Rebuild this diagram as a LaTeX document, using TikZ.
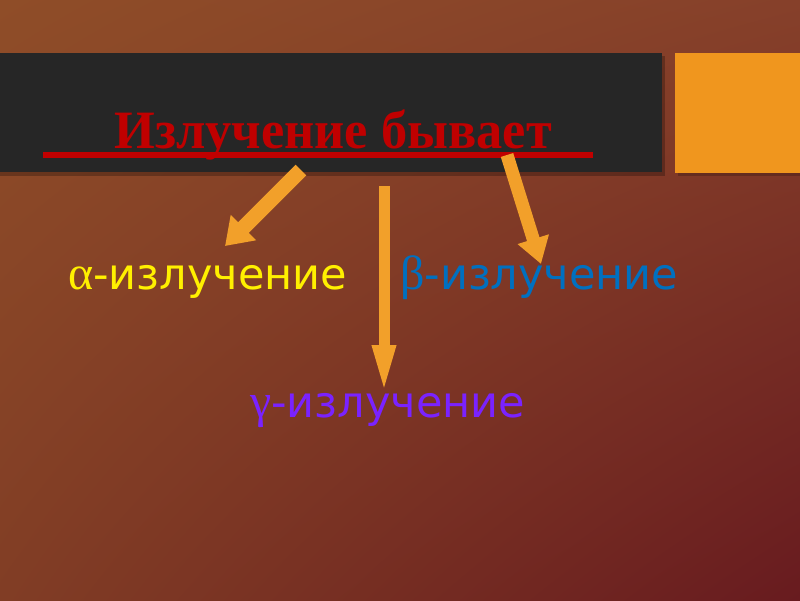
\documentclass[tikz,border=0pt]{standalone}
\usepackage{fontspec}
\setmainfont{Liberation Serif}
\newfontfamily\sansfnt{DejaVu Sans}
\newfontfamily\grkfnt{Liberation Serif}
\usetikzlibrary{arrows.meta,shadings}
\definecolor{bgUL}{HTML}{8F4D28}
\definecolor{bgUR}{HTML}{86402A}
\definecolor{bgLL}{HTML}{813D25}
\definecolor{bgLR}{HTML}{681B1F}
\definecolor{bandcol}{HTML}{262626}
\definecolor{orangebox}{HTML}{F0961E}
\definecolor{titlered}{HTML}{C00000}
\definecolor{arrowcol}{HTML}{F2A02A}
\definecolor{alphacol}{HTML}{FFF000}
\definecolor{betacol}{HTML}{0070C0}
\definecolor{gammacol}{HTML}{7A22FF}
\newcommand{\grk}[1]{{\grkfnt\fontsize{48}{55}\selectfont\grkfnt #1}}
\tikzset{
  arrowbody/.style={draw=arrowcol, line width=#1},
  labeltext/.style={anchor=base west, inner sep=0pt, font=\sansfnt\fontsize{43}{50}\selectfont},
}
\begin{document}
\begin{tikzpicture}[x=1pt,y=-1pt]
\useasboundingbox (0,0) rectangle (800,600);
\shade[upper left=bgUL, upper right=bgUR, lower left=bgLL, lower right=bgLR] (0,0) rectangle (800,600);
% header band and orange box
\fill[black, opacity=.25] (0,56) rectangle (665,176);
\fill[bandcol] (0,53) rectangle (662,172);
\fill[black, opacity=.2] (678,56) rectangle (800,176);
\fill[orangebox] (675,53) rectangle (800,173);
% title
\node[anchor=base, inner sep=0pt, text=titlered] (title) at (333,148)
  {\scalebox{0.97}[1]{\fontsize{54}{60}\selectfont\bfseries Излучение бывает}};
\coordinate (ulL) at (43,155);
\coordinate (ulR) at (593,155);
\draw[titlered, line width=6pt] (ulL) -- (ulR);
% labels
\node[labeltext, text=alphacol] (alpha) at (68,289) {\grk{α}-излучение};
\node[labeltext, text=betacol] (beta) at (400,289) {\grk{β}-излучение};
\node[labeltext, text=gammacol] (gamma) at (250,417) {\grk{γ}-излучение};
% arrows
\coordinate (aS) at (301,170);
\coordinate (aE) at (225,246);
\coordinate (gS) at (384,186);
\coordinate (gE) at (384,395);
\coordinate (bS) at (507,155);
\coordinate (bE) at (541,264);
\draw[arrowbody=15pt, -{Triangle[width=34pt,length=26pt,fill=arrowcol]}] (aS) -- (aE);
\draw[arrowbody=11pt, -{Triangle[width=21pt,length=50pt,fill=arrowcol]}] (gS) -- (gE);
\draw[arrowbody=13pt, -{Triangle[width=31pt,length=26pt,fill=arrowcol]}] (bS) -- (bE);
\end{tikzpicture}
\end{document}
